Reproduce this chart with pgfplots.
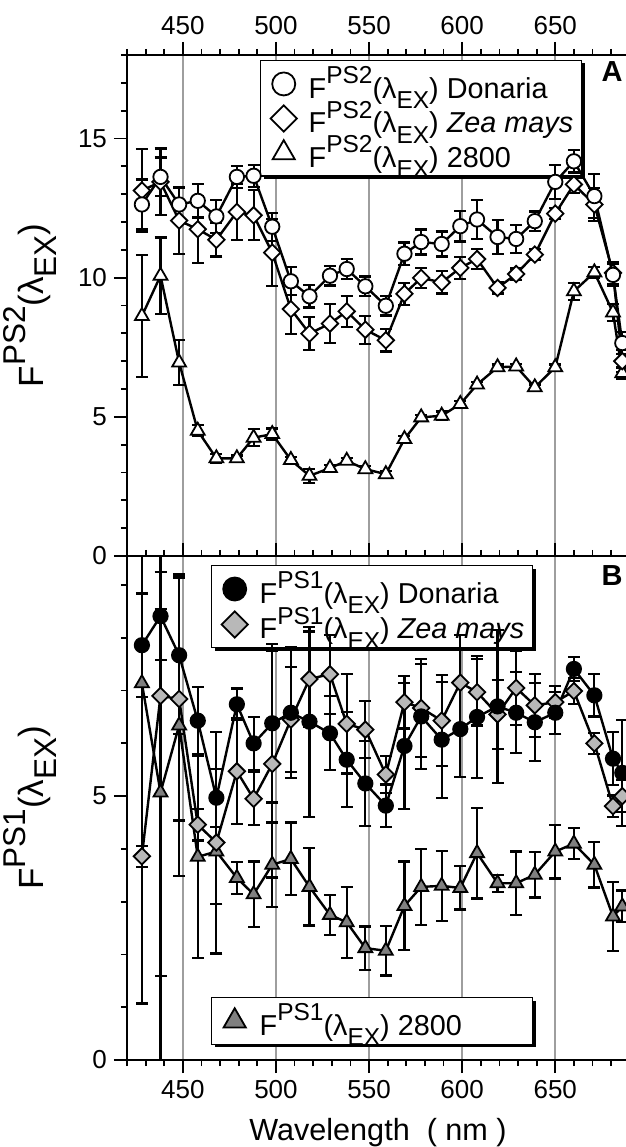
\documentclass[border=0pt]{standalone}
\usepackage{graphicx}
\usepackage{fontspec}
\setmainfont{Liberation Sans}
\setsansfont{Liberation Sans}
\usepackage{pgfplots}
\pgfplotsset{compat=1.18}
\usepackage{pgfplotstable}
\usetikzlibrary{calc,shadows}

\newcommand{\Fs}{0.85}
\newcommand{\Fx}[2]{F\raisebox{0.5em}{\scalebox{\Fs}{#1}}(λ\raisebox{-0.36em}{\scalebox{\Fs}{#2}})}
\newcommand{\LE}[1]{\rule[-3.5pt]{0pt}{19pt}\makebox[133.5pt][l]{#1}}

% panel A: c = Donaria, d = Zea mays, t = 2800  (F^PS2)
\pgfplotstableread{
x    c      ce    d      de    t      te
428  12.63  0.9   13.13  1.5   8.62   2.2
438  13.62  0.7   13.44  1.2   10.07  1.37
448  12.63  0.6   12.05  1.2   6.95   0.8
458  12.76  0.6   11.74  1.2   4.50   0.2
468  12.20  0.6   11.36  0.6   3.51   0.15
479  13.62  0.4   12.36  1.0   3.51   0.1
488  13.66  0.4   12.24  0.9   4.25   0.3
498  11.83  0.5   10.90  1.2   4.38   0.2
508  9.87   0.5   8.87   0.9   3.45   0.1
518  9.33   0.4   7.99   0.6   2.88   0.25
529  10.07  0.35  8.35   0.7   3.16   0.1
538  10.31  0.35  8.79   0.55  3.42   0.1
548  9.69   0.35  8.13   0.5   3.12   0.1
559  8.99   0.35  7.75   0.4   2.94   0.1
569  10.86  0.4   9.42   0.4   4.20   0.1
578  11.28  0.45  9.99   0.35  4.98   0.1
589  11.21  0.45  9.83   0.4   5.04   0.15
599  11.85  0.55  10.35  0.4   5.46   0.1
608  12.09  0.7   10.67  0.35  6.16   0.1
619  11.46  0.6   9.63   0.2   6.78   0.1
629  11.39  0.5   10.13  0.2   6.81   0.1
639  12.03  0.35  10.83  0.2   6.06   0.1
650  13.44  0.6   12.30  0.2   6.78   0.1
660  14.18  0.4   13.35  0.3   9.51   0.3
671  12.93  0.8   12.63  0.6   10.19  0.2
681  10.10  0.4   10.17  0.4   8.75   0.3
686  7.65   0.4   7.00   0.4   6.57   0.2
}\dataA

% panel B: c = Donaria, d = Zea mays, t = 2800  (F^PS1)
\pgfplotstableread{
x    c      ce    d      de    t      te
428  7.86   0.98  3.86   0.2   7.14   6.07
438  8.41   0.83  6.90   7.5   5.07   3.48
448  7.67   1.5   6.84   2.3   6.34   2.86
458  6.43   0.64  4.46   0.3   3.85   1.92
468  4.97   0.55  4.12   2.1   3.95   1.0
479  6.74   0.3   5.47   1.0   3.45   0.3
488  6.00   0.5   4.95   0.5   3.14   0.62
498  6.38   1.5   5.61   2.15  3.70   0.8
508  6.58   1.24  6.45   1.0   3.81   0.69
518  6.41   1.8   7.22   0.9   3.28   0.73
529  6.19   0.7   7.31   0.75  2.75   0.38
538  5.69   0.9   6.37   0.94  2.61   0.67
548  5.24   0.8   6.26   0.54  2.12   0.41
559  4.82   0.4   5.41   0.35  2.07   0.47
569  5.95   1.2   6.78   0.5   2.92   0.84
578  6.51   1.0   6.67   0.93  3.28   0.72
589  6.07   1.1   6.43   0.86  3.30   0.66
599  6.27   0.9   7.15   0.9   3.26   0.41
608  6.50   1.15  6.97   0.63  3.92   0.86
619  6.70   1.45  6.55   0.65  3.35   0.16
629  6.58   0.77  7.05   0.7   3.35   0.6
639  6.40   0.74  6.72   0.6   3.51   0.43
650  6.58   0.4   6.78   0.3   3.95   0.51
660  7.41   0.23  6.99   0.25  4.10   0.29
671  6.91   0.4   6.00   0.2   3.70   0.43
681  5.71   0.5   4.81   0.2   2.72   0.66
686  5.44   1.0   5.00   0.3   2.91   0.3
}\dataB

\pgfplotsset{
  common/.style={scale only axis, width=251.37pt, xmin=420, xmax=690},
  bg/.style={common, xtick={450,500,550,600,650}, ytick=\empty, xticklabels=\empty,
    xmajorgrids, major grid style={line width=0.8pt, black!38},
    axis line style={draw=none}, major tick length=0pt,
    legend cell align=left,
    legend image code/.code={%
      \pgfpathmoveto{\pgfpoint{0pt}{0pt}}\pgfpathlineto{\pgfpoint{16pt}{0pt}}\pgfusepath{discard}%
      \draw[##1, every mark/.append style={scale=1.6}] plot coordinates {(8.5pt,0pt)};},
    legend style={draw=black, line width=0.7pt, fill=white,
      inner xsep=3pt, inner ysep=3pt, column sep=5pt, row sep=0pt,
      nodes={inner sep=0pt},
      font=\fontsize{14.4}{16}\selectfont,
      drop shadow={shadow xshift=1.4pt, shadow yshift=-1.4pt, opacity=1, fill=black}}},
  main/.style={common, xtick={450,500,550,600,650}, minor xtick={420,430,...,680},
    tick align=outside, ytick pos=left, yticklabel pos=left,
    major tick length=6.5pt, minor tick length=3pt,
    every tick/.style={black, line width=0.9pt},
    axis line style={line width=1.1pt},
    tick label style={font=\fontsize{13}{15}\selectfont},
    /pgf/number format/assume math mode=true,
    xlabel style={font=\fontsize{15.3}{18}\selectfont},
    ylabel style={font=\fontsize{17.5}{20}\selectfont\renewcommand{\Fs}{0.9}}},
  sc/.style={line width=1.2pt, black, mark=*, mark size=3.6pt,
    mark options={solid, draw=black, line width=0.9pt, fill=#1}},
  sd/.style={line width=1.2pt, black, mark=square*, mark size=2.9pt,
    mark options={solid, rotate=45, draw=black, line width=0.9pt, fill=#1}},
  st/.style={line width=1.2pt, black, mark=triangle*, mark size=4pt,
    mark options={solid, draw=black, line width=0.9pt, fill=#1}},
  eb/.style={error bars/.cd, y dir=both, y explicit,
    error bar style={line width=1.1pt, black},
    error mark options={rotate=90, mark size=3pt, line width=1.1pt, black}},
}

\begin{document}
\begin{tikzpicture}
% ---------- backgrounds (grid + legends) ----------
\begin{axis}[bg, height=250.5pt, ymin=0, ymax=18, at={(0,0)}, anchor=south west,
  legend style={at={(0.2646,0.990)}, anchor=north west}]
\addlegendimage{sc=white}
\addlegendentry{\LE{\Fx{PS2}{EX} Donaria}}
\addlegendimage{sd=white}
\addlegendentry{\LE{\Fx{PS2}{EX} \textit{Zea mays}}}
\addlegendimage{st=white}
\addlegendentry{\LE{\Fx{PS2}{EX} 2800}}
\end{axis}
\begin{axis}[bg, height=252pt, ymin=0, ymax=9.55, at={(0,0)}, anchor=north west,
  legend style={at={(0.1671,0.982)}, anchor=north west, row sep=0.5pt}]
\addlegendimage{sc=black}
\addlegendentry{\LE{\Fx{PS1}{EX} Donaria}}
\addlegendimage{sd=black!28}
\addlegendentry{\LE{\Fx{PS1}{EX} \textit{Zea mays}}}
\end{axis}
\begin{axis}[bg, hide axis, height=252pt, ymin=0, ymax=9.55, at={(0,0)}, anchor=north west,
  legend style={at={(0.1671,0.0298)}, anchor=south west}]
\addlegendimage{st=black!50}
\addlegendentry{\LE{\Fx{PS1}{EX} 2800}}
\end{axis}
% ---------- panel A ----------
\begin{axis}[main, name=A, height=250.5pt, ymin=0, ymax=18, at={(0,0)}, anchor=south west,
  xtick pos=right, xticklabel pos=right,
  ytick={0,5,10,15}, minor ytick={0,1,...,18},
  ylabel={\Fx{PS2}{EX}},
  ylabel style={at={(axis description cs:-0.193,0.5)}, anchor=center}]
\addplot[st=white, eb] table[x=x, y=t, y error=te] {\dataA};
\addplot[sd=white, eb] table[x=x, y=d, y error=de] {\dataA};
\addplot[sc=white, eb] table[x=x, y=c, y error=ce] {\dataA};
\node[font=\bfseries\fontsize{14.5}{16}\selectfont] at (axis description cs:0.9647,0.966) {A};
\end{axis}
% ---------- panel B ----------
\begin{axis}[main, name=B, height=252pt, ymin=0, ymax=9.55, at={(0,0)}, anchor=north west,
  xtick pos=both, xticklabel pos=left,
  ytick={0,5}, minor ytick={0,1,...,9},
  ylabel={\Fx{PS1}{EX}},
  ylabel style={at={(axis description cs:-0.193,0.5)}, anchor=center},
  xlabel={Wavelength~~( nm )},
  xlabel style={at={(axis description cs:0.4993,-0.1448)}, anchor=center}]
\addplot[st=black!50, eb] table[x=x, y=t, y error=te] {\dataB};
\addplot[sd=black!28, eb] table[x=x, y=d, y error=de] {\dataB};
\addplot[sc=black, eb] table[x=x, y=c, y error=ce] {\dataB};
\node[font=\bfseries\fontsize{14.5}{16}\selectfont] at (axis description cs:0.9647,0.962) {B};
\end{axis}
\pgfresetboundingbox
\path[use as bounding box] ($(B.south west)+(-63.5pt,-43.5pt)$) rectangle ($(A.north west)+(249pt,27.5pt)$);
\end{tikzpicture}
\end{document}
